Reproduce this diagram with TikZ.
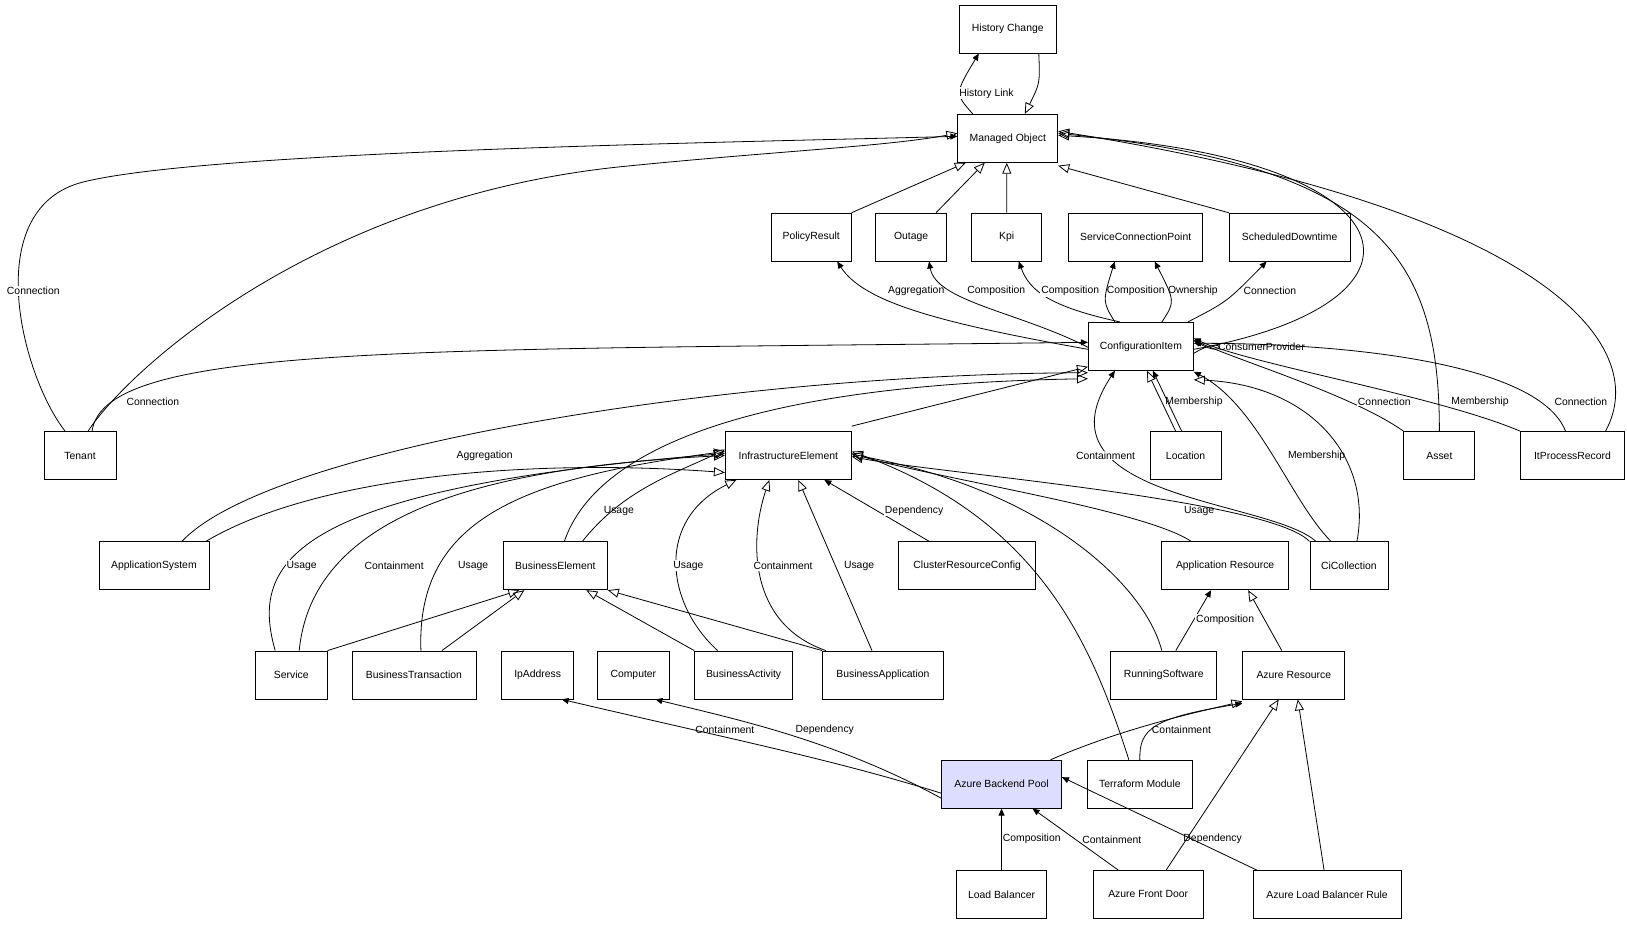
\documentclass[tikz,border=0pt]{standalone}
\usepackage{fontspec}
\setmainfont{Liberation Sans}
\usetikzlibrary{arrows.meta}
\begin{document}
\begin{tikzpicture}[x=1.04pt,y=-1.04pt,
  box/.style={draw,thick,fill=white,minimum height=48pt,inner sep=0pt,font=\fontsize{10.4}{12}\selectfont},
  gen/.style={-{Triangle[open,length=11pt,width=9pt]},thick},
  as/.style={-{Triangle[length=7pt,width=6pt]},thick},
  lab/.style={font=\fontsize{10.4}{12}\selectfont,fill=white,inner sep=1pt}]
\useasboundingbox (0,0) rectangle (1564.4,888.5);
\node[box,minimum width=97pt] (hc) at (969,28) {History Change};
\node[box,minimum width=100pt] (mo) at (969,133) {Managed Object};
\node[box,minimum width=80pt] (pr) at (780,228) {PolicyResult};
\node[box,minimum width=71pt] (ou) at (876,228) {Outage};
\node[box,minimum width=70pt] (kpi) at (968,228) {Kpi};
\node[box,minimum width=134pt] (scp) at (1092,228) {ServiceConnectionPoint};
\node[box,minimum width=121pt] (sd) at (1240,228) {ScheduledDowntime};
\node[box,minimum width=105pt] (ci) at (1097,333) {ConfigurationItem};
\node[box,minimum width=72pt] (te) at (77,438) {Tenant};
\node[box,minimum width=126pt] (ie) at (758,438) {InfrastructureElement};
\node[box,minimum width=71pt] (lo) at (1140,438) {Location};
\node[box,minimum width=71pt] (as) at (1384,438) {Asset};
\node[box,minimum width=104pt] (ipr) at (1512,438) {ItProcessRecord};
\node[box,minimum width=110pt] (aps) at (148,544) {ApplicationSystem};
\node[box,minimum width=104pt] (be) at (534,544) {BusinessElement};
\node[box,minimum width=137pt] (crc) at (930,544) {ClusterResourceConfig};
\node[box,minimum width=127pt] (ar) at (1178,544) {Application Resource};
\node[box,minimum width=78pt] (cc) at (1297,544) {CiCollection};
\node[box,minimum width=72pt] (se) at (280,649) {Service};
\node[box,minimum width=124pt] (bt) at (398,649) {BusinessTransaction};
\node[box,minimum width=72pt] (ip) at (517,649) {IpAddress};
\node[box,minimum width=72pt] (co) at (609,649) {Computer};
\node[box,minimum width=98pt] (ba) at (715,649) {BusinessActivity};
\node[box,minimum width=121pt] (bap) at (849,649) {BusinessApplication};
\node[box,minimum width=106pt] (rs) at (1119,649) {RunningSoftware};
\node[box,minimum width=102pt] (azr) at (1244,649) {Azure Resource};
\node[box,minimum width=120pt,fill={rgb,255:red,221;green,221;blue,255}] (abp) at (963,754) {Azure Backend Pool};
\node[box,minimum width=105pt] (tm) at (1096,754) {Terraform Module};
\node[box,minimum width=90pt] (lb) at (963,860) {Load Balancer};
\node[box,minimum width=110pt] (afd) at (1104,860) {Azure Front Door};
\node[box,minimum width=148pt] (albr) at (1276,860) {Azure Load Balancer Rule};

% Managed Object / History Change
\draw[as] ([xshift=-35pt]mo.north) .. controls (918,90) .. ([xshift=-29pt]hc.south) node[lab,pos=0.45,right=-2pt] {History Link};
\draw[gen] ([xshift=31pt]hc.south) .. controls (1000,80) .. ([xshift=17pt]mo.north);
\draw[gen] (pr.north east) -- ([xshift=-42pt]mo.south);
\draw[gen] ([xshift=25pt]ou.north) -- ([xshift=-23pt]mo.south);
\draw[gen] (kpi.north) -- ([xshift=-1pt]mo.south);
\draw[gen] (sd.north west) -- ([yshift=-3pt]mo.south east);
% Tenant
\draw[as] ([xshift=-15pt]te.north) .. controls (20,360) and (-20,200) .. (80,175) .. controls (200,145) and (700,137) .. ([yshift=2pt]mo.west);
\node[lab] at (32,280) {Connection};
\draw[gen] ([xshift=8pt]te.north) .. controls (120,360) and (300,190) .. (600,160) .. controls (750,145) and (850,141) .. ([yshift=5pt]mo.west);
\draw[as] ([xshift=12pt]te.north) .. controls (100,330) and (400,337) .. ([yshift=4pt]ci.west);
\node[lab] at (147,386) {Connection};
% CI to MO & others
\draw[gen] ([yshift=-3pt]ci.east) .. controls (1400,290) and (1360,150) .. ([yshift=3pt]mo.east);
\draw[gen] (as.north) .. controls (1384,250) and (1330,160) .. ([yshift=5pt]mo.east);
\draw[gen] ([xshift=33pt]ipr.north) .. controls (1590,330) and (1480,200) .. ([yshift=7pt]mo.east);
\draw[as] ([yshift=-3pt]ci.west) .. controls (900,310) and (830,290) .. ([xshift=26pt]pr.south);
\node[lab] at (881,280) {Aggregation};
\draw[as] ([yshift=-1pt]ci.west) .. controls (980,300) and (900,290) .. ([xshift=18pt]ou.south);
\node[lab] at (958,280) {Composition};
\draw[as] ([xshift=-21pt]ci.north) .. controls (1010,295) and (990,280) .. ([xshift=12pt]kpi.south);
\node[lab] at (1029,280) {Composition};
\draw[as] ([xshift=-26pt]ci.north) .. controls (1060,290) .. ([xshift=-21pt]scp.south);
\node[lab,fill=none] at (1092,280) {Composition};
\draw[as] ([xshift=21pt]ci.north) .. controls (1130,290) .. ([xshift=19pt]scp.south);
\node[lab,fill=none] at (1147,280) {Ownership};
\draw[as] ([xshift=47pt]ci.north) .. controls (1180,290) .. ([xshift=-23pt]sd.south);
\node[lab] at (1221,280) {Connection};
\draw[as] ([yshift=-7pt]ci.east) .. controls (1180,320) and (1180,346) .. ([yshift=6pt]ci.east);
\node[lab,fill=none,anchor=west] at (1170,333) {ConsumerProvider};
\draw[gen] ([xshift=-10pt]lo.north) -- ([xshift=6pt]ci.south);
\draw[as] ([xshift=-4pt]lo.north) -- ([xshift=12pt]ci.south);
\node[lab,fill=none] at (1148,386) {Membership};
\draw[as] (as.north west) .. controls (1300,380) and (1200,350) .. ([yshift=6pt]ci.east);
\node[lab] at (1331,386) {Connection};
\draw[as] (ipr.north west) .. controls (1380,380) and (1200,350) .. ([yshift=8pt]ci.east);
\node[lab] at (1423,386) {Membership};
\draw[as] ([xshift=-7pt]ipr.north) .. controls (1480,350) and (1300,330) .. ([yshift=3pt]ci.east);
\node[lab] at (1520,386) {Connection};
% IE and CI
\draw[gen] ([yshift=5pt]ie.north east) -- ([yshift=4pt]ci.south west);
\draw[gen] ([xshift=28pt]aps.north) .. controls (260,430) and (700,360) .. ([yshift=-2pt]ci.south west);
\node[lab,fill=none] at (466,438) {Aggregation};
\draw[gen] ([xshift=52pt]aps.north) .. controls (300,460) and (500,440) .. ([yshift=-17pt]ie.west);
\draw[gen] ([xshift=9pt]be.north) .. controls (570,440) and (700,370) .. ([yshift=-8pt]ci.south west);
\draw[gen] ([xshift=27pt]be.north) .. controls (600,470) and (650,455) .. ([yshift=6pt]ie.west);
\node[lab,fill=none] at (595,491) {Usage};
\draw[gen] ([xshift=-16pt]se.north) .. controls (240,540) and (280,470) .. ([yshift=2pt]ie.west);
\node[lab] at (290,544) {Usage};
\draw[gen] ([xshift=8pt]se.north) .. controls (300,500) and (450,450) .. ([yshift=0pt]ie.west);
\node[lab] at (379,544) {Containment};
\draw[gen] ([xshift=7pt]bt.north) .. controls (400,500) and (500,460) .. ([yshift=4pt]ie.west);
\node[lab] at (455,544) {Usage};
\draw[gen] (se.north east) -- ([xshift=-36pt]be.south);
\draw[gen] ([xshift=28pt]bt.north) -- ([xshift=-31pt]be.south);
\draw[gen] (ba.north west) -- ([xshift=31pt]be.south);
\draw[gen] (bap.north west) -- (be.south east);
\draw[gen] ([xshift=-26pt]ba.north) .. controls (640,580) and (630,500) .. ([xshift=-52pt]ie.south);
\node[lab] at (662,544) {Usage};
\draw[gen] ([xshift=-57pt]bap.north) .. controls (720,600) and (720,520) .. ([xshift=-19pt]ie.south);
\node[lab] at (753,544) {Containment};
\draw[gen] ([xshift=-11pt]bap.north) -- ([xshift=10pt]ie.south);
\node[lab] at (826,544) {Usage};
\draw[as] ([xshift=-38pt]crc.north) -- ([xshift=36pt]ie.south);
\node[lab] at (879,491) {Dependency};
\draw[gen] ([xshift=-34pt]ar.north) .. controls (1100,490) and (900,460) .. ([yshift=2pt]ie.east);
\draw[gen] (cc.north west) .. controls (1220,480) and (900,455) .. ([yshift=-1pt]ie.east);
\node[lab,fill=none] at (1153,491) {Usage};
\draw[as] ([xshift=-33pt]cc.north) .. controls (1220,480) and (990,480) .. ([xshift=-26pt]ci.south);
\node[lab] at (1063,438) {Containment};
\draw[as] ([xshift=-18pt]cc.north) .. controls (1240,480) and (1210,390) .. ([yshift=-1pt]ci.south east);
\node[lab] at (1266,438) {Membership};
\draw[gen] ([xshift=8pt]cc.north) .. controls (1320,440) and (1260,370) .. ([yshift=-9pt]ci.south east);
% lower part
\draw[gen] ([xshift=-2pt]rs.north) .. controls (1100,560) and (1000,470) .. ([yshift=1pt]ie.east);
\draw[as] ([xshift=12pt]rs.north) -- ([xshift=-14pt]ar.south);
\node[lab] at (1178,596) {Composition};
\draw[gen] ([xshift=-12pt]azr.north) -- ([xshift=23pt]ar.south);
\draw[gen] ([xshift=-11pt]tm.north) .. controls (1050,620) and (1000,500) .. ([yshift=4pt]ie.east);
\draw[as] (tm.north) .. controls (1095,700) and (1110,690) .. ([yshift=-4pt]azr.south west);
\node[lab,fill=none] at (1136,702) {Containment};
\draw[gen] ([xshift=49pt]abp.north) .. controls (1080,700) and (1150,685) .. ([yshift=-2pt]azr.south west);
\draw[as] ([yshift=-9pt]abp.west) .. controls (800,730) and (700,710) .. ([xshift=24pt]ip.south);
\node[lab,fill=none] at (697,702) {Containment};
\draw[as] ([yshift=-14pt]abp.west) .. controls (800,710) and (700,690) .. ([xshift=22pt]co.south);
\node[lab,fill=none] at (793,702) {Dependency};
\draw[as] (lb.north) -- (abp.south);
\node[lab,fill=none] at (992,807) {Composition};
\draw[as] ([xshift=-30pt]afd.north) -- ([xshift=31pt]abp.south);
\node[lab,fill=none] at (1069,807) {Containment};
\draw[gen] ([xshift=18pt]afd.north) -- ([xshift=-15pt]azr.south);
\draw[as] ([xshift=4pt]albr.north west) -- ([yshift=7pt]abp.east);
\node[lab,fill=none] at (1166,807) {Dependency};
\draw[gen] ([xshift=-3pt]albr.north) -- ([xshift=4pt]azr.south);
\end{tikzpicture}
\end{document}
